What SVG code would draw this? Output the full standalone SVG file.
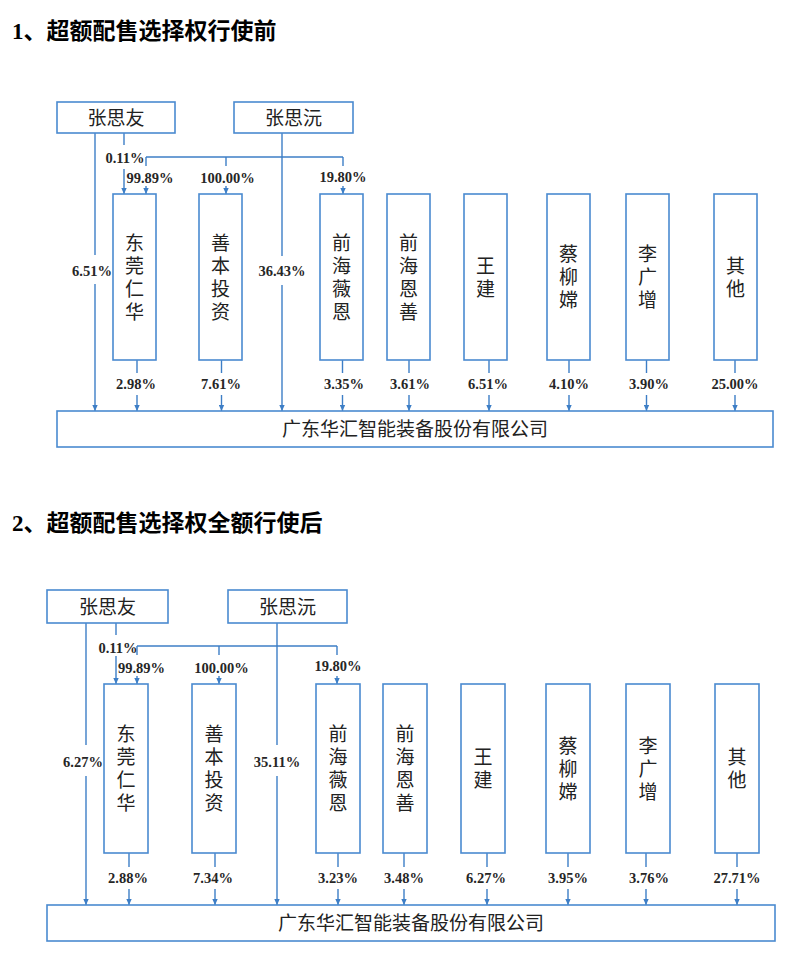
<svg xmlns="http://www.w3.org/2000/svg" width="792" height="964" viewBox="0 0 792 964">
<style>
.box{fill:#fff;stroke:#4a8ad0;stroke-width:1.6}
.ln{stroke:#3d7ec6;stroke-width:1.4;fill:none}
.ar{marker-end:url(#ah)}
.pct{font-family:"Liberation Serif",serif;font-weight:bold;font-size:14.5px;fill:#262626;text-anchor:middle}
.cn{font-family:"Noto Sans CJK SC",sans-serif;font-size:19px;fill:#222;text-anchor:middle}
.vt{font-family:"Noto Sans CJK SC",sans-serif;font-size:19px;fill:#222;text-anchor:middle;writing-mode:vertical-rl;text-orientation:upright;letter-spacing:4px}
.title{font-family:"Liberation Serif","Noto Sans CJK SC",serif;font-weight:bold;font-size:23px;fill:#000}
</style>
<defs>
<marker id="ah" viewBox="0 0 6 6" refX="6" refY="3" markerWidth="6" markerHeight="6" markerUnits="userSpaceOnUse" orient="auto"><path d="M0,0.3L6,3L0,5.7z" fill="#3d7ec6"/></marker>
</defs>
<rect width="792" height="964" fill="#fff"/>

<text class="title" x="12" y="39">1、超额配售选择权行使前</text>
<text class="title" x="12" y="531">2、超额配售选择权全额行使后</text>

<!-- ===== Diagram 1 ===== -->
<g id="d1-connectors">
<path class="ln" d="M95,133V255"/><path class="ln ar" d="M95,284V411"/>
<path class="ln" d="M282,133V256"/><path class="ln ar" d="M282,285V411"/>
<path class="ln" d="M124,133V145"/><path class="ln ar" d="M124,169V194"/>
<path class="ln" d="M146,157H343"/>
<path class="ln" d="M146,157V166"/><path class="ln ar" d="M146,186V194"/>
<path class="ln" d="M226,157V166"/><path class="ln ar" d="M226,186V194"/>
<path class="ln" d="M343,157V166"/><path class="ln ar" d="M343,186V194"/>
<path class="ln" d="M137,360V373"/><path class="ln ar" d="M137,395V411"/>
<path class="ln" d="M221.5,360V373"/><path class="ln ar" d="M221.5,395V411"/>
<path class="ln" d="M342.5,360V373"/><path class="ln ar" d="M342.5,395V411"/>
<path class="ln" d="M409,360V373"/><path class="ln ar" d="M409,395V411"/>
<path class="ln" d="M489,360V373"/><path class="ln ar" d="M489,395V411"/>
<path class="ln" d="M569,360V373"/><path class="ln ar" d="M569,395V411"/>
<path class="ln" d="M646.5,360V373"/><path class="ln ar" d="M646.5,395V411"/>
<path class="ln" d="M735,360V373"/><path class="ln ar" d="M735,395V411"/>
<text class="pct" x="125" y="162.5">0.11%</text>
<text class="pct" x="150" y="182.5">99.89%</text>
<text class="pct" x="227.5" y="182.5">100.00%</text>
<text class="pct" x="343" y="181.5">19.80%</text>
<text class="pct" x="92" y="275.5">6.51%</text>
<text class="pct" x="282" y="275.5">36.43%</text>
<text class="pct" x="136" y="388.5">2.98%</text>
<text class="pct" x="221" y="388.5">7.61%</text>
<text class="pct" x="344" y="388.5">3.35%</text>
<text class="pct" x="410" y="388.5">3.61%</text>
<text class="pct" x="488" y="388.5">6.51%</text>
<text class="pct" x="569" y="388.5">4.10%</text>
<text class="pct" x="649" y="388.5">3.90%</text>
<text class="pct" x="735" y="388.5">25.00%</text>
</g>
<g id="d1-zsy"><rect class="box" x="57" y="102" width="118" height="31"/><text class="cn" x="116" y="125">张思友</text></g>
<g id="d1-zsw"><rect class="box" x="234" y="102" width="119" height="31"/><text class="cn" x="293.5" y="125">张思沅</text></g>
<g id="d1-dgrh"><rect class="box" x="113" y="194" width="43" height="166"/><text class="vt" x="134.5" y="279">东莞仁华</text></g>
<g id="d1-sbtz"><rect class="box" x="199" y="194" width="43" height="166"/><text class="vt" x="220.5" y="279">善本投资</text></g>
<g id="d1-qhwe"><rect class="box" x="320" y="194" width="43" height="166"/><text class="vt" x="341.5" y="279">前海薇恩</text></g>
<g id="d1-qhes"><rect class="box" x="387" y="194" width="43" height="166"/><text class="vt" x="408.5" y="279">前海恩善</text></g>
<g id="d1-wj"><rect class="box" x="464" y="194" width="43" height="166"/><text class="vt" x="485.5" y="279">王建</text></g>
<g id="d1-clc"><rect class="box" x="547" y="194" width="43" height="166"/><text class="vt" x="568.5" y="279">蔡柳嫦</text></g>
<g id="d1-lgz"><rect class="box" x="626" y="194" width="43" height="166"/><text class="vt" x="647.5" y="279">李广增</text></g>
<g id="d1-qt"><rect class="box" x="714" y="194" width="43" height="166"/><text class="vt" x="735.5" y="279">其他</text></g>
<g id="d1-company"><rect class="box" x="57" y="411" width="716" height="36"/><text class="cn" x="415" y="436">广东华汇智能装备股份有限公司</text></g>

<!-- ===== Diagram 2 ===== -->
<g id="d2-connectors">
<path class="ln" d="M86,623V745"/><path class="ln ar" d="M86,776V905"/>
<path class="ln" d="M277,623V745"/><path class="ln ar" d="M277,776V905"/>
<path class="ln" d="M116,623V635"/><path class="ln ar" d="M116,656V684"/>
<path class="ln" d="M137,646H337"/>
<path class="ln" d="M137,646V655"/><path class="ln ar" d="M137,676V684"/>
<path class="ln" d="M219,646V655"/><path class="ln ar" d="M219,676V684"/>
<path class="ln" d="M337,646V655"/><path class="ln ar" d="M337,676V684"/>
<path class="ln" d="M129,853V867"/><path class="ln ar" d="M129,889V905"/>
<path class="ln" d="M215,853V867"/><path class="ln ar" d="M215,889V905"/>
<path class="ln" d="M338,853V867"/><path class="ln ar" d="M338,889V905"/>
<path class="ln" d="M404,853V867"/><path class="ln ar" d="M404,889V905"/>
<path class="ln" d="M487,853V867"/><path class="ln ar" d="M487,889V905"/>
<path class="ln" d="M568,853V867"/><path class="ln ar" d="M568,889V905"/>
<path class="ln" d="M646,853V867"/><path class="ln ar" d="M646,889V905"/>
<path class="ln" d="M737,853V867"/><path class="ln ar" d="M737,889V905"/>
<text class="pct" x="118" y="652.5">0.11%</text>
<text class="pct" x="141.5" y="672.5">99.89%</text>
<text class="pct" x="221.5" y="672.5">100.00%</text>
<text class="pct" x="338" y="671">19.80%</text>
<text class="pct" x="83" y="766.5">6.27%</text>
<text class="pct" x="277" y="766.5">35.11%</text>
<text class="pct" x="128" y="882.5">2.88%</text>
<text class="pct" x="213" y="882.5">7.34%</text>
<text class="pct" x="338" y="882.5">3.23%</text>
<text class="pct" x="404" y="882.5">3.48%</text>
<text class="pct" x="486" y="882.5">6.27%</text>
<text class="pct" x="568" y="882.5">3.95%</text>
<text class="pct" x="649" y="882.5">3.76%</text>
<text class="pct" x="737" y="882.5">27.71%</text>
</g>
<g id="d2-zsy"><rect class="box" x="47" y="590" width="121" height="33"/><text class="cn" x="107.5" y="613.5">张思友</text></g>
<g id="d2-zsw"><rect class="box" x="228" y="590" width="119" height="33"/><text class="cn" x="287.5" y="613.5">张思沅</text></g>
<g id="d2-dgrh"><rect class="box" x="104" y="684" width="44" height="169"/><text class="vt" x="126" y="770.5">东莞仁华</text></g>
<g id="d2-sbtz"><rect class="box" x="192" y="684" width="44" height="169"/><text class="vt" x="214" y="770.5">善本投资</text></g>
<g id="d2-qhwe"><rect class="box" x="316" y="684" width="44" height="169"/><text class="vt" x="338" y="770.5">前海薇恩</text></g>
<g id="d2-qhes"><rect class="box" x="383" y="684" width="44" height="169"/><text class="vt" x="405" y="770.5">前海恩善</text></g>
<g id="d2-wj"><rect class="box" x="461" y="684" width="44" height="169"/><text class="vt" x="483" y="770.5">王建</text></g>
<g id="d2-clc"><rect class="box" x="546" y="684" width="44" height="169"/><text class="vt" x="568" y="770.5">蔡柳嫦</text></g>
<g id="d2-lgz"><rect class="box" x="626" y="684" width="44" height="169"/><text class="vt" x="648" y="770.5">李广增</text></g>
<g id="d2-qt"><rect class="box" x="715" y="684" width="44" height="169"/><text class="vt" x="737" y="770.5">其他</text></g>
<g id="d2-company"><rect class="box" x="47" y="905" width="728" height="36"/><text class="cn" x="411" y="930">广东华汇智能装备股份有限公司</text></g>
</svg>
